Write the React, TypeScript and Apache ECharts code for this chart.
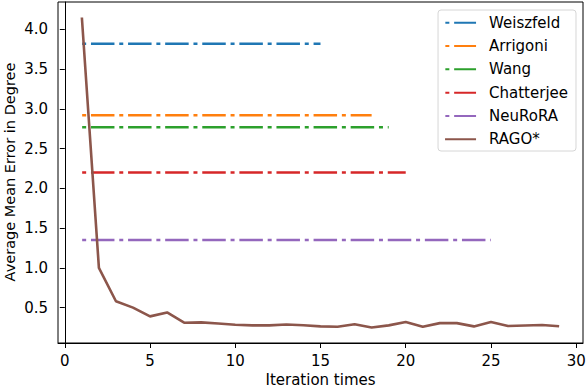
import React, { useEffect, useRef } from "react";
import * as echarts from "echarts";

const seriesNames = ["Weiszfeld", "Arrigoni", "Wang", "Chatterjee", "NeuRoRA", "RAGO*"];
const seriesColors = ["#1f77b4", "#ff7f0e", "#2ca02c", "#d62728", "#9467bd", "#8c564b"];

// constant baselines: value and last iteration
const baselineValues = [3.82, 2.92, 2.77, 2.2, 1.35];
const baselineEnds = [15, 18, 19, 20, 25];

const ragoIterations = [1, 2, 3, 4, 5, 6, 7, 8, 9, 10, 11, 12, 13, 14, 15, 16, 17, 18, 19, 20, 21, 22, 23, 24, 25, 26, 27, 28, 29];
const ragoValues = [4.15, 1.0, 0.58, 0.5, 0.39, 0.44, 0.31, 0.315, 0.3, 0.285, 0.277, 0.277, 0.288, 0.278, 0.264, 0.26, 0.29, 0.25, 0.277, 0.318, 0.26, 0.305, 0.305, 0.264, 0.318, 0.268, 0.275, 0.282, 0.265];

const xTicks = [0, 5, 10, 15, 20, 25, 30];
const yTicks = [0.5, 1.0, 1.5, 2.0, 2.5, 3.0, 3.5, 4.0];

const xTitle = "Iteration times";
const yTitle = "Average Mean Error in Degree";

const FONT = "DejaVu Sans";
const FS = 15;

export default function App() {
  const ref = useRef<HTMLDivElement>(null);
  useEffect(() => {
    if (!ref.current) return;
    const chart = echarts.init(ref.current, null, { renderer: "svg" });
    const series: any[] = baselineValues.map((v, i) => {
      const data: number[][] = [];
      for (let x = 1; x <= baselineEnds[i]; x++) data.push([x, v]);
      return {
        name: seriesNames[i],
        type: "line",
        data,
        symbol: "none",
        color: seriesColors[i],
        lineStyle: { color: seriesColors[i], width: 2.6, type: [23.5, 4.8, 4, 4.8], dashOffset: 28.3, cap: "butt" },
        z: 2,
      };
    });
    series.push({
      name: seriesNames[5],
      type: "line",
      data: ragoIterations.map((x, i) => [x, ragoValues[i]]),
      symbol: "none",
      color: seriesColors[5],
      lineStyle: { color: seriesColors[5], width: 2.6 },
      z: 3,
    });
    chart.setOption({
      animation: false,
      textStyle: { fontFamily: FONT },
      grid: {
        left: 58, right: 3, top: 2, bottom: 47,
        outerBoundsMode: "none",
        containLabel: false,
        show: true, borderColor: "#000", borderWidth: 1, backgroundColor: "transparent",
      },
      graphic: [
        {
          type: "text",
          x: 9.5,
          y: 172,
          rotation: Math.PI / 2,
          style: { text: yTitle, fontFamily: FONT, fontSize: 14.5, fill: "#000", align: "center", verticalAlign: "middle" },
        },
      ],
      legend: {
        orient: "vertical",
        right: 10,
        top: 10,
        data: seriesNames,
        itemWidth: 31,
        itemHeight: 14,
        itemGap: 5.8,
        padding: [4, 8, 3, 6],
        borderColor: "#d6d6d6",
        borderWidth: 1,
        borderRadius: 3,
        backgroundColor: "#fff",
        itemStyle: { color: "transparent", borderWidth: 0, opacity: 0 },
        textStyle: { fontFamily: FONT, fontSize: FS, lineHeight: 17.5, color: "#000", padding: [0, 0, 0, 8] },
      },
      xAxis: {
        type: "value",
        min: -0.4,
        max: 30.4,
        name: xTitle,
        nameLocation: "middle",
        nameGap: 29,
        nameTextStyle: { fontFamily: FONT, fontSize: FS, color: "#000" },
        axisLine: { show: true, lineStyle: { color: "#000", width: 1 } },
        axisTick: { show: true, length: 5, customValues: xTicks, lineStyle: { color: "#000" } },
        axisLabel: { customValues: xTicks, margin: 10, fontFamily: FONT, fontSize: FS, color: "#000" },
        splitLine: { show: false },
      },
      yAxis: {
        type: "value",
        min: 0.055,
        max: 4.345,
        axisLine: { show: true, lineStyle: { color: "#000", width: 1 } },
        axisTick: { show: true, length: 5, customValues: yTicks, lineStyle: { color: "#000" } },
        axisLabel: { customValues: yTicks, margin: 10, fontFamily: FONT, fontSize: FS, color: "#000", formatter: (v: number) => v.toFixed(1) },
        splitLine: { show: false },
      },
      series,
    });
    return () => chart.dispose();
  }, []);
  return <div ref={ref} style={{ width: 586, height: 390, position: "absolute", left: 0, top: 0 }} />;
}
